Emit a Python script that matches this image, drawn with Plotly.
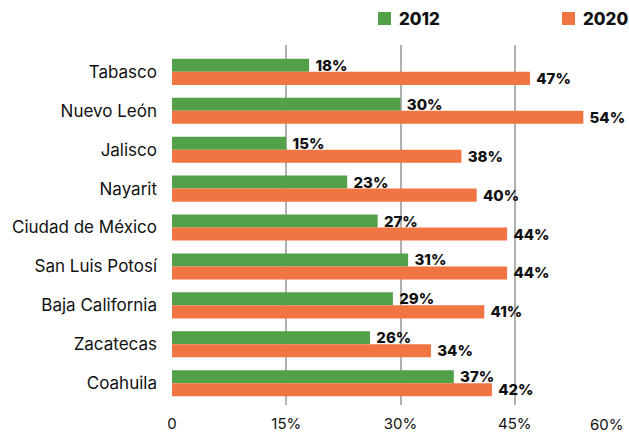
import plotly.graph_objects as go

states = ["Tabasco", "Nuevo León", "Jalisco", "Nayarit", "Ciudad de México",
          "San Luis Potosí", "Baja California", "Zacatecas", "Coahuila"]
values_2012 = [18, 30, 15, 23, 27, 31, 29, 26, 37]
values_2020 = [47, 54, 38, 40, 44, 44, 41, 34, 42]
series_names = ["2012", "2020"]
tick_vals = [0, 15, 30, 45, 60]
tick_text = ["0", "15%", "30%", "45%", "60%"]

GREEN = "#52a047"
ORANGE = "#f17443"
FONT = "Inter"

W, H = 629, 434
ML, MR, MT, MB = 172, 0, 45, 29
PW, PH = W - ML - MR, H - MT - MB


def px_x(px):
    return (px - ML) / PW


def px_y(py):
    return (H - MB - py) / PH


fig = go.Figure()
for name, vals, col in [(series_names[0], values_2012, GREEN),
                        (series_names[1], values_2020, ORANGE)]:
    fig.add_trace(go.Bar(
        y=states, x=vals, orientation="h", name=name,
        marker=dict(color=col, line=dict(width=0)),
        text=[f"\u00a0{v}%" for v in vals], textposition="outside",
        constraintext="none",
        textfont=dict(family=FONT, size=15, color="#111111", weight=800),
        cliponaxis=False,
    ))

fig.update_layout(
    width=W, height=H,
    margin=dict(l=ML, r=MR, t=MT, b=MB, autoexpand=False),
    paper_bgcolor="white", plot_bgcolor="white",
    barmode="group", bargap=0.33, bargroupgap=0,
    font=dict(family=FONT, size=15, color="#111111"),
    showlegend=False,
    xaxis=dict(range=[0, 60], tickvals=tick_vals[:-1], ticktext=tick_text[:-1],
               showgrid=True, gridcolor="#b0b0b0", gridwidth=1.5,
               zeroline=False, showline=False, ticks="", automargin=False,
               ticklabelstandoff=8,
               tickfont=dict(family=FONT, size=15, color="#111111")),
    yaxis=dict(categoryorder="array", categoryarray=states,
               range=[8.56, -0.69], showgrid=False, zeroline=False,
               ticks="", ticklabelstandoff=14, automargin=False,
               tickfont=dict(family=FONT, size=17, color="#111111")),
)
# last x tick label, kept inside the page
fig.add_annotation(x=1.0, xref="paper", y=0, yref="paper", yanchor="top", yshift=-8,
                   xanchor="right", xshift=-3, text=tick_text[-1], showarrow=False,
                   font=dict(family=FONT, size=15, color="#111111"))

# legend (squares + bold labels)
for name, col, sq_left in [(series_names[0], GREEN, 378), (series_names[1], ORANGE, 562)]:
    fig.add_shape(type="rect", xref="paper", yref="paper",
                  x0=px_x(sq_left), x1=px_x(sq_left + 13),
                  y0=px_y(25), y1=px_y(12),
                  fillcolor=col, line=dict(width=0))
    fig.add_annotation(x=px_x(sq_left + 19), xref="paper", y=px_y(18.5), yref="paper",
                       xanchor="left", yanchor="middle", text=name, showarrow=False,
                       font=dict(family=FONT, size=17, color="#111111", weight=800))

fig.write_html("out.html", config={"displayModeBar": False},
               post_script="document.body.style.margin='0';")
